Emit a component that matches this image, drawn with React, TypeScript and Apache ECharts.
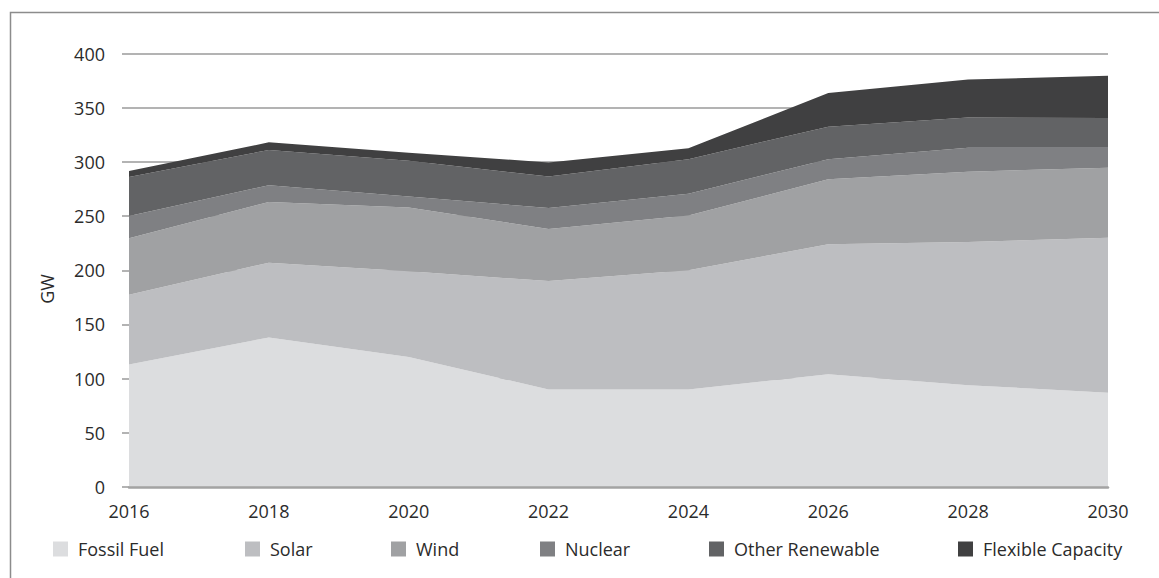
import React, { useEffect, useRef } from "react";
import * as echarts from "echarts";

const years = ["2016", "2018", "2020", "2022", "2024", "2026", "2028", "2030"];
const fossilFuel = [113, 138, 120, 90, 90, 104, 94, 87];
const solar = [64.5, 69, 79, 100, 110, 120, 132, 143];
const wind = [52, 56, 59, 48, 50.5, 60, 65, 64.5];
const nuclear = [20.5, 15.5, 10, 19.5, 20, 18.5, 22, 18.5];
const otherRenewable = [36, 32.5, 33, 29, 32, 30, 28, 27.5];
const flexibleCapacity = [5.5, 7, 7.5, 13, 10, 31, 35, 39];
const yTicks = [0, 50, 100, 150, 200, 250, 300, 350, 400];

const seriesNames = ["Fossil Fuel", "Solar", "Wind", "Nuclear", "Other Renewable", "Flexible Capacity"];
const seriesData = [fossilFuel, solar, wind, nuclear, otherRenewable, flexibleCapacity];
const seriesColors = ["#dcdddf", "#bdbec1", "#a0a1a3", "#7f8083", "#626365", "#404041"];
const legendLefts = [48, 240, 386, 535, 704, 953];

const FONT = "'Open Sans', 'Noto Sans', sans-serif";
const TEXT_COLOR = "#2b2b2b";
const FS = 18;

export default function App() {
  const ref = useRef<HTMLDivElement>(null);
  useEffect(() => {
    if (!ref.current) return;
    const chart = echarts.init(ref.current, undefined, { renderer: "svg" });
    chart.setOption({
      animation: false,
      backgroundColor: "#ffffff",
      textStyle: { fontFamily: FONT },
      grid: { left: 129, right: 51, top: 53.5, bottom: 91, containLabel: false },
      xAxis: {
        type: "category",
        data: years,
        boundaryGap: false,
        axisLine: { show: true, lineStyle: { color: "#a3a3a3", width: 2.5 } },
        axisTick: { show: false },
        axisLabel: { color: TEXT_COLOR, fontSize: FS, margin: 15, fontFamily: FONT },
        splitLine: { show: false },
        z: 5,
      },
      yAxis: {
        type: "value",
        min: yTicks[0],
        max: yTicks[yTicks.length - 1],
        interval: 50,
        axisLine: { show: false },
        axisTick: { show: true, length: 7, lineStyle: { color: "#9a9a9a", width: 1.5 } },
        axisLabel: { color: TEXT_COLOR, fontSize: FS, margin: 24, fontFamily: FONT },
        splitLine: { show: true, lineStyle: { color: "#9a9a9a", width: 1.5 } },
      },
      legend: seriesNames.map((name, i) => ({
        show: true,
        data: [name],
        left: legendLefts[i],
        top: 535,
        icon: "rect",
        itemWidth: 15,
        itemHeight: 15,
        itemGap: 0,
        selectedMode: false,
        textStyle: { color: TEXT_COLOR, fontSize: FS, fontFamily: FONT, padding: [0, 0, 0, 5] },
      })),
      graphic: [
        {
          type: "rect",
          left: 8,
          top: 10,
          shape: { x: 0, y: 0, width: 1300, height: 800 },
          style: { fill: "none", stroke: "#8c8c8c", lineWidth: 1.5 },
          silent: true,
        },
        {
          type: "text",
          x: 47,
          y: 289,
          rotation: Math.PI / 2,
          style: {
            text: "GW",
            fill: TEXT_COLOR,
            fontSize: FS,
            fontFamily: FONT,
            align: "center",
            verticalAlign: "middle",
          },
        },
      ],
      series: seriesNames.map((name, i) => ({
        name,
        type: "line",
        stack: "total",
        data: seriesData[i],
        symbol: "none",
        showSymbol: false,
        lineStyle: { width: 0, color: seriesColors[i] },
        itemStyle: { color: seriesColors[i] },
        areaStyle: { color: seriesColors[i], opacity: 1 },
        emphasis: { disabled: true },
      })),
    });
    return () => chart.dispose();
  }, []);
  return (
    <div
      ref={ref}
      style={{ position: "fixed", left: 0, top: 0, width: 1159, height: 578 }}
    />
  );
}
